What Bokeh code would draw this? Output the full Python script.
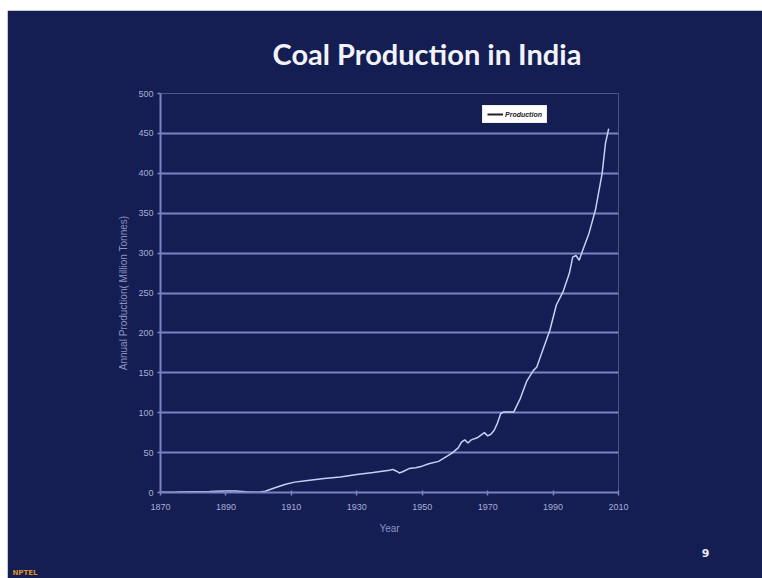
from bokeh.plotting import figure
from bokeh.models import Legend, LegendItem, Title, FixedTicker, Range1d
from bokeh.embed import file_html
from bokeh.resources import INLINE

# ---- data ----
years = [1870, 1875, 1880, 1885, 1890, 1893, 1896, 1900, 1902, 1905, 1908, 1911,
         1915, 1920, 1925, 1930, 1935, 1940, 1941, 1942, 1943, 1944, 1946, 1948,
         1950, 1952, 1955, 1957, 1959, 1961, 1962, 1963, 1964, 1965, 1967, 1969,
         1970, 1971, 1972, 1973, 1974, 1975, 1978, 1980, 1982, 1984, 1985, 1987,
         1989, 1991, 1993, 1995, 1996, 1997, 1998, 1999, 2001, 2003, 2005, 2006, 2007]
production = [0.3, 0.5, 1.0, 1.3, 2.0, 2.0, 1.0, 0.3, 1.5, 6.0, 10.0, 13.0,
              15.0, 17.5, 19.5, 22.5, 25.0, 28.0, 29.0, 27.0, 24.5, 26.0, 30.0, 31.0,
              33.0, 36.0, 39.0, 44.0, 49.0, 56.0, 63.0, 66.0, 62.0, 66.0, 69.0, 75.0,
              71.0, 73.0, 78.0, 87.0, 99.0, 101.0, 101.0, 118.0, 140.0, 153.0, 157.0, 180.0,
              203.0, 235.0, 251.0, 275.0, 295.0, 297.0, 291.0, 303.0, 325.0, 355.0, 400.0, 437.0, 456.0]
x_ticks = [1870, 1890, 1910, 1930, 1950, 1970, 1990, 2010]
y_ticks = [0, 50, 100, 150, 200, 250, 300, 350, 400, 450, 500]
series_name = "Production"
title_text = "Coal Production in India"
x_title = "Year"
y_title = "Annual Production( Million Tonnes)"
page_number = "9"

BG = "#141e52"
GRID = "#7b82c2"
TICKTXT = "#a9aed8"

p = figure(width=755, height=568, output_backend="svg", toolbar_location=None,
           x_range=Range1d(1870, 2010), y_range=Range1d(0, 500),
           background_fill_color=BG, border_fill_color=BG,
           min_border_left=153, min_border_right=144,
           min_border_top=83, min_border_bottom=86,
           outline_line_color=None, margin=(10, 0, 0, 7))

# slide title
p.title.text = title_text
p.title.align = "left"
p.title.offset = 112
p.title.standoff = 46
p.title.text_font = "Lato"
p.title.text_font_style = "bold"
p.title.text_font_size = "29px"
p.title.text_color = "#f2f3fa"

# grid
p.xgrid.grid_line_color = None
p.ygrid.ticker = FixedTicker(ticks=y_ticks)
p.ygrid.grid_line_color = GRID
p.ygrid.grid_line_width = 2

# axes
p.xaxis.ticker = FixedTicker(ticks=x_ticks)
p.yaxis.ticker = FixedTicker(ticks=y_ticks)
for ax in (p.xaxis[0], p.yaxis[0]):
    ax.axis_line_color = GRID
    ax.axis_line_width = 2
    ax.major_tick_line_color = GRID
    ax.major_tick_line_width = 1.5
    ax.minor_tick_line_color = None
    ax.major_label_text_color = TICKTXT
    ax.major_label_text_font = "Liberation Sans"
    ax.major_label_text_font_size = "9px"
    ax.axis_label_text_color = "#8d92c4"
    ax.axis_label_text_font = "Liberation Sans"
    ax.axis_label_text_font_size = "10px"
    ax.axis_label_text_font_style = "normal"
p.xaxis.major_tick_in = 2
p.xaxis.major_tick_out = 3
p.yaxis.major_tick_in = 0
p.yaxis.major_tick_out = 3
p.xaxis.major_label_standoff = 8
p.yaxis.major_label_standoff = 4
p.xaxis.axis_label = x_title
p.yaxis.axis_label = y_title
p.xaxis.axis_label_standoff = 10
p.yaxis.axis_label_standoff = 6

# data line
p.line(years, production, line_color="#c9cff2", line_width=1.5)

# legend sample renderer (dark line, as in the reference legend); a single point draws nothing
leg_r = p.line(years[-1:], production[-1:], line_color="#222222", line_width=2)
legend = Legend(items=[LegendItem(label=series_name, renderers=[leg_r])],
                location=(322, 369), orientation="vertical",
                background_fill_color="white", background_fill_alpha=1.0,
                border_line_color="#dddddd", label_text_font_size="7px",
                label_text_font="Liberation Sans", label_text_font_style="bold italic",
                label_text_color="#222222", glyph_width=16, glyph_height=8,
                label_standoff=2, padding=4, spacing=0, margin=0,
                label_height=8)
p.add_layout(legend, "center")

# page number and logo text below the x axis
p.add_layout(Title(text=page_number, align="right", offset=-91, standoff=20,
                   text_font="DejaVu Sans", text_font_style="bold",
                   text_font_size="11px", text_color="#e8e9f5"), "below")
p.add_layout(Title(text="NPTEL", align="left", offset=-148, standoff=1,
                   text_font="DejaVu Sans", text_font_style="bold",
                   text_font_size="7px", text_color="#d9902a"), "below")

open("out.html", "w").write(file_html(p, INLINE))
